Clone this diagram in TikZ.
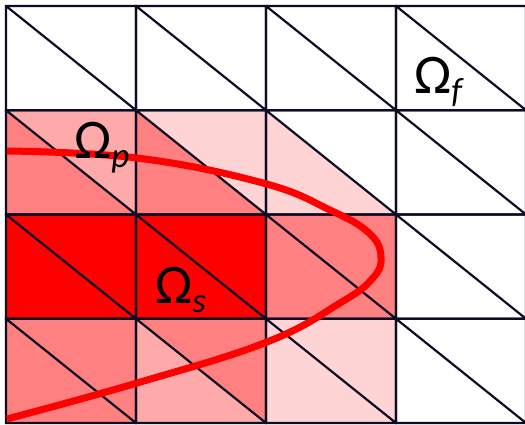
\documentclass[tikz,border=0pt]{standalone}
\usepackage{fontspec}
\setmainfont{Carlito}
\definecolor{meshline}{RGB}{12,12,36}
\definecolor{solidred}{RGB}{255,0,0}
\definecolor{midred}{RGB}{255,128,128}
\definecolor{lightred}{RGB}{255,170,170}
\definecolor{palered}{RGB}{255,212,212}
\newcommand{\omsub}[1]{Ω\raisebox{-9pt}{\fontsize{35}{35}\selectfont\itshape #1}}

\begin{document}
\begin{tikzpicture}[x=1pt, y=-1pt,
  mesh/.style={draw=meshline, line width=2.2pt},
  iface/.style={draw=solidred, line width=7pt},
  lbl/.style={font=\fontsize{56}{56}\selectfont, inner sep=0pt, anchor=base west}
]
  \useasboundingbox (0,0) rectangle (525,424);
  \clip (0,0) rectangle (525,424);

  % shaded triangles: column/row/upper/lower
  \foreach \c/\r/\up/\lo in {0/1/lightred/midred, 1/1/palered/midred, 2/1/white/palered,
      0/2/solidred/solidred, 1/2/solidred/solidred, 2/2/midred/midred,
      0/3/midred/midred, 1/3/midred/lightred, 2/3/palered/palered} {
    \fill[\up] ({6+130*\c},{6+104.25*\r}) -- ++(130,0) -- ++(0,104.25) -- cycle;
    \fill[\lo] ({6+130*\c},{6+104.25*\r}) -- ++(0,104.25) -- ++(130,0) -- cycle;
  }

  % mesh
  \foreach \c in {0,...,3} {
    \foreach \r in {0,...,3} {
      \draw[mesh] ({6+130*\c},{6+104.25*\r}) rectangle ++(130,104.25)
        ({6+130*\c},{6+104.25*\r}) -- ++(130,104.25);
    }
  }

  % interface
  \draw[iface] plot[smooth, tension=0.7] coordinates {(7,151) (137,158) (263,183)
    (330,210) (369,233) (381,257) (372,279) (340,303) (267,342) (137,383) (7,419)};

  \node[lbl] (omegaP) at (74,158) {\omsub{p}};
  \node[lbl] (omegaS) at (155,303) {\omsub{s}};
  \node[lbl] (omegaF) at (414,93) {\omsub{f}};
\end{tikzpicture}
\end{document}
